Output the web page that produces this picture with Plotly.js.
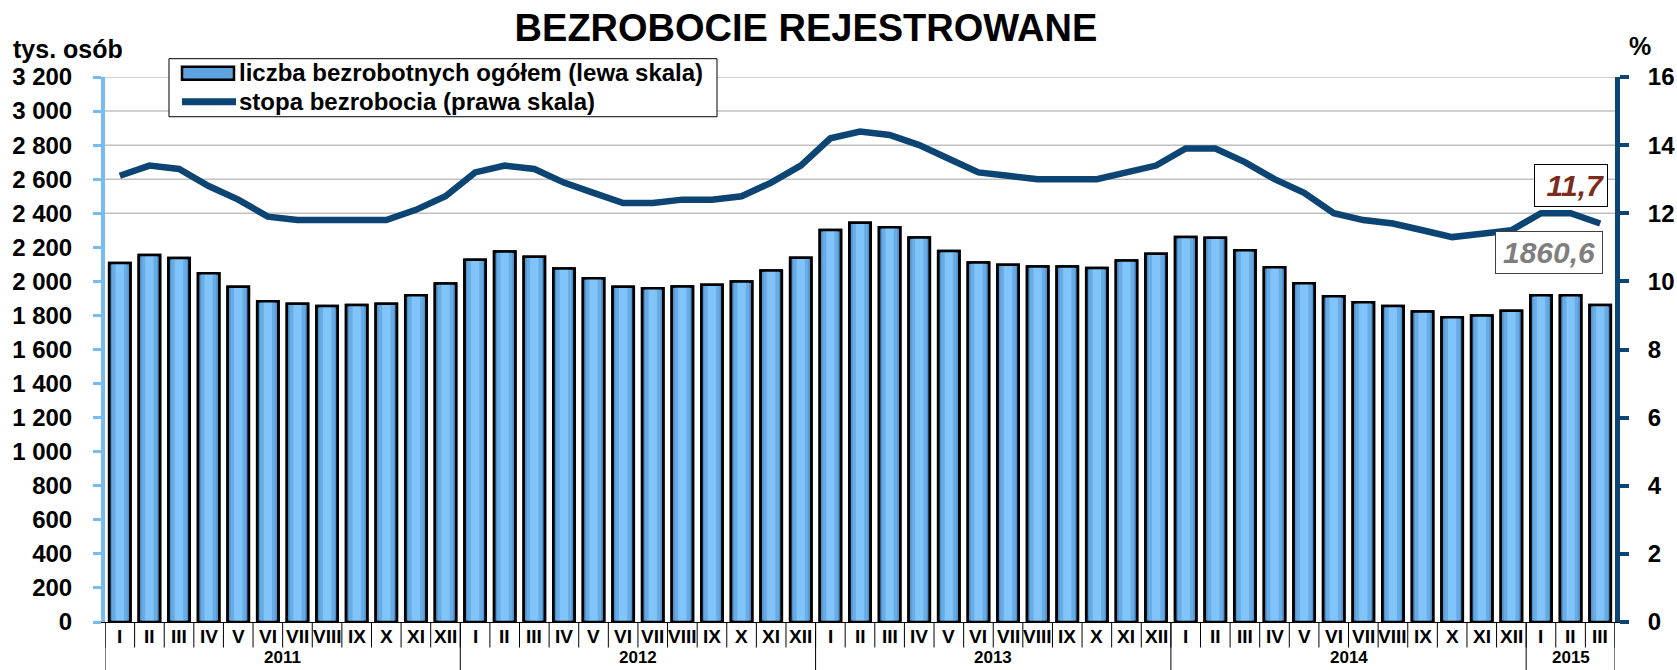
<!DOCTYPE html>
<html><head><meta charset="utf-8">
<script src="https://cdn.plot.ly/plotly-3.0.1.min.js"></script>
<style>html,body{margin:0;padding:0;background:#fff}#chart{width:1677px;height:670px}</style>
</head><body><div id="chart"></div>
<script>
const years = ['2011', '2012', '2013', '2014', '2015'];
const monthsPerYear = [12, 12, 12, 12, 3];
const monthLabels = ['I', 'II', 'III', 'IV', 'V', 'VI', 'VII', 'VIII', 'IX', 'X', 'XI', 'XII'];

// liczba bezrobotnych ogółem, tys. osób (lewa skala)
const unemployed = [
  2108, 2155, 2137, 2047, 1969, 1884, 1868, 1856, 1862, 1868, 1919, 1988,
  2127, 2176, 2144, 2076, 2019, 1968, 1960, 1970, 1980, 1999, 2064, 2138,
  2301, 2344, 2318, 2258, 2179, 2111, 2097, 2087, 2087, 2078, 2123, 2162,
  2261, 2256, 2183, 2083, 1989, 1913, 1878, 1856, 1823, 1790, 1800, 1827,
  1919, 1919, 1860.6
];
// stopa bezrobocia, % (prawa skala)
const rate = [
  13.1, 13.4, 13.3, 12.8, 12.4, 11.9, 11.8, 11.8, 11.8, 11.8, 12.1, 12.5,
  13.2, 13.4, 13.3, 12.9, 12.6, 12.3, 12.3, 12.4, 12.4, 12.5, 12.9, 13.4,
  14.2, 14.4, 14.3, 14.0, 13.6, 13.2, 13.1, 13.0, 13.0, 13.0, 13.2, 13.4,
  13.9, 13.9, 13.5, 13.0, 12.6, 12.0, 11.8, 11.7, 11.5, 11.3, 11.4, 11.5,
  12.0, 12.0, 11.7
];
const gridLevels = [2400, 2600, 2800, 3000, 3200];
const seriesNames = ['liczba bezrobotnych ogółem (lewa skala)', 'stopa bezrobocia (prawa skala)'];

// category positions and labels
const xMonth = [], yearStart = [];
let cursor = 0;
years.forEach((y, k) => {
  yearStart.push(cursor);
  for (let m = 0; m < monthsPerYear[k]; m++) xMonth.push(monthLabels[m]);
  cursor += monthsPerYear[k];
});
const N = unemployed.length;
const xIdx = unemployed.map((_, i) => i);
const last = N - 1;
const fmt = v => String(v).replace('.', ',');

const FONT = 'Liberation Sans, Arial, sans-serif';
const NAVY = '#0c4473';
const LIGHT = '#78baf2';
const boldFont = (size, color) => ({ family: FONT, size: size, weight: 'bold', color: color || '#000000' });

const barBase = { type: 'bar', x: xIdx, y: unemployed, yaxis: 'y', hoverinfo: 'skip', showlegend: false };
const traces = [
  Object.assign({}, barBase, { name: seriesNames[0], width: 0.72,
    marker: { color: '#5192cc', line: { color: '#000000', width: 2.5 } } }),
  Object.assign({}, barBase, { width: 0.52,
    marker: { color: '#68ace6', line: { width: 0 } } }),
  Object.assign({}, barBase, { width: 0.28,
    marker: { color: '#80c4fa', line: { width: 0 } } }),
  Object.assign({}, barBase, { width: 0.72,
    marker: { color: 'rgba(0,0,0,0)', line: { color: '#000000', width: 2.5 } } }),
  { type: 'scatter', mode: 'lines', name: seriesNames[1], x: xIdx, y: rate, showlegend: false,
    line: { color: NAVY, width: 6.5 }, yaxis: 'y2' }
];

const shapes = [];
gridLevels.forEach(v => shapes.push({
  type: 'line', xref: 'paper', x0: 0, x1: 1, yref: 'y', y0: v, y1: v,
  line: { color: '#c0c0c0', width: 1.5 }, layer: 'below'
}));
// month dividers
for (let i = 0; i <= N; i++) {
  shapes.push({ type: 'line', xref: 'x', x0: i - 0.5, x1: i - 0.5, yref: 'paper', y0: 0, y1: -0.0468,
    line: { color: '#000000', width: 1 } });
}
// year dividers
yearStart.concat([N]).forEach(s => shapes.push({
  type: 'line', xref: 'x', x0: s - 0.5, x1: s - 0.5, yref: 'paper', y0: 0, y1: -0.095,
  line: { color: '#000000', width: 1 } }));

// legend (drawn by hand: box, bar symbol, line symbol)
shapes.push(
  { type: 'rect', xref: 'paper', yref: 'paper', x0: 0.04238, x1: 0.40530, y0: 0.92708, y1: 1.03361,
    fillcolor: '#ffffff', line: { color: '#000000', width: 1 } },
  { type: 'rect', xref: 'paper', yref: 'paper', x0: 0.05099, x1: 0.08543, y0: 0.99504, y1: 1.01892,
    fillcolor: '#5fa3de', line: { color: '#000000', width: 2.5 } },
  { type: 'line', xref: 'paper', yref: 'paper', x0: 0.05099, x1: 0.08675, y0: 0.95463, y1: 0.95463,
    line: { color: NAVY, width: 7 } }
);

const annotations = [];
xMonth.forEach((m, i) => annotations.push({
  xref: 'x', yref: 'paper', x: i, y: -0.0263, xanchor: 'center', yanchor: 'middle',
  text: m, showarrow: false, font: boldFont(19) }));
years.forEach((y, k) => annotations.push({
  xref: 'x', yref: 'paper', x: yearStart[k] + (monthsPerYear[k] - 1) / 2, y: -0.0655,
  xanchor: 'center', yanchor: 'middle', text: y, showarrow: false, font: boldFont(17) }));
seriesNames.forEach((s, k) => annotations.push({
  xref: 'paper', yref: 'paper', x: 0.08742, xanchor: 'left', y: [1.0079, 0.95463][k], yanchor: 'middle',
  text: s, showarrow: false, font: boldFont(24) }));
annotations.push(
  { xref: 'paper', yref: 'paper', x: -0.062, xanchor: 'left', y: 1.081, yanchor: 'top',
    text: 'tys. osób', showarrow: false, font: boldFont(25) },
  { xref: 'paper', yref: 'paper', x: 1.0166, xanchor: 'center', y: 1.0575, yanchor: 'middle',
    text: '%', showarrow: false, font: boldFont(25) },
  { xref: 'x', yref: 'y2', x: last, y: rate[last], xshift: -29, yshift: 38,
    xanchor: 'center', yanchor: 'middle',
    text: fmt(rate[last]), showarrow: false, align: 'right',
    width: 66, height: 35, borderpad: 3, bgcolor: '#ffffff',
    bordercolor: '#000000', borderwidth: 1,
    font: { family: FONT, size: 30, weight: 'bold', style: 'italic', color: '#7b2c1c' } },
  { xref: 'x', yref: 'y', x: last, y: unemployed[last], xshift: -51, yshift: 53,
    xanchor: 'center', yanchor: 'middle',
    text: fmt(unemployed[last]), showarrow: false, align: 'center',
    width: 100, height: 35, borderpad: 3, bgcolor: '#ffffff',
    bordercolor: '#404040', borderwidth: 1,
    font: { family: FONT, size: 30, weight: 'bold', style: 'italic', color: '#7f7f7f' } }
);

const layout = {
  width: 1677, height: 670,
  margin: { l: 105, r: 62, t: 77, b: 48, autoexpand: false },
  paper_bgcolor: '#ffffff', plot_bgcolor: '#ffffff',
  separators: ', ',
  font: { family: FONT, color: '#000000', weight: 'bold' },
  title: {
    text: 'BEZROBOCIE REJESTROWANE', xref: 'container', x: 0.4806, xanchor: 'center',
    yref: 'container', y: 0.958, yanchor: 'middle',
    font: boldFont(38)
  },
  barmode: 'overlay',
  showlegend: false,
  xaxis: {
    type: 'linear', range: [-0.5, N - 0.5], showticklabels: false, ticks: '',
    showline: true, linecolor: '#000000', linewidth: 1, showgrid: false, zeroline: false,
    automargin: false
  },
  yaxis: {
    range: [0, 3200], dtick: 200, tick0: 0, tickformat: ',d',
    showgrid: false, zeroline: false,
    showline: true, linecolor: LIGHT, linewidth: 4,
    ticks: 'outside', ticklen: 8, tickwidth: 3, tickcolor: LIGHT,
    tickfont: boldFont(24), ticklabelstandoff: 16, automargin: false
  },
  yaxis2: {
    overlaying: 'y', side: 'right', range: [0, 16], dtick: 2, tick0: 0,
    showgrid: false, zeroline: false,
    showline: true, linecolor: NAVY, linewidth: 5,
    ticks: 'outside', ticklen: 9, tickwidth: 4, tickcolor: NAVY,
    tickfont: boldFont(24), ticklabelstandoff: 14, automargin: false
  },
  shapes: shapes,
  annotations: annotations
};

Plotly.newPlot('chart', traces, layout, { staticPlot: true, displayModeBar: false });
</script>
</body></html>
